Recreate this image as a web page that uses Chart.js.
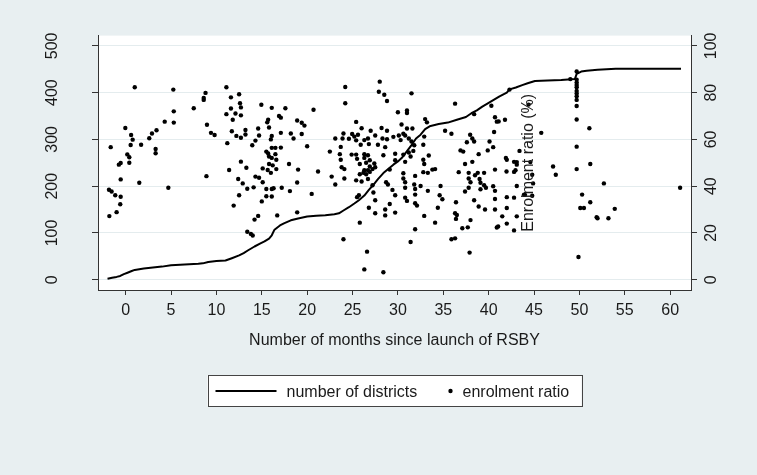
<!DOCTYPE html>
<html><head><meta charset="utf-8">
<script src="https://cdn.jsdelivr.net/npm/chart.js@4.4.1/dist/chart.umd.min.js"></script>
<style>html,body{margin:0;padding:0;background:#E8EFF1;}#wrap{width:757px;height:475px;position:relative}</style>
</head><body><div id="wrap"><canvas id="c" width="757" height="475"></canvas></div>
<script>
// ---- data ----
const xTicks = [0,5,10,15,20,25,30,35,40,45,50,55,60];
const leftTicks = [0,100,200,300,400,500];
const rightTicks = [0,20,40,60,80,100];
const xTitle = 'Number of months since launch of RSBY';
const rightTitle = 'Enrolment ratio (%)';
const legendLabels = ['number of districts','enrolment ratio'];

// cumulative number of districts (left axis)
const distMonths = [-2.0,-1.5,-1.0,-0.6,-0.2,0.2,0.6,1.0,2.0,3.0,4.0,5.0,6.0,7.0,8.0,8.5,9.1,10.0,11.0,11.7,12.5,13.0,13.5,14.2,14.8,15.3,15.8,16.1,16.4,17.0,17.5,18.2,19.0,20.0,21.0,22.0,23.0,23.5,24.0,24.6,25.2,25.7,26.3,26.8,27.3,27.8,28.4,29.0,29.5,30.0,30.5,31.0,31.5,32.0,32.5,33.0,33.5,34.5,35.5,36.5,37.5,38.1,38.7,39.3,40.0,40.6,41.2,42.0,42.3,43.0,43.7,44.3,45.1,46.5,48.0,49.5,49.7,50.2,50.8,52.0,53.0,54.0,61.2];
const distCounts = [2,4,6,8,12,15,18,21,24,26,28,31,32,33,34,35,38,40,41,46,52,57,63,71,77,82,88,95,107,116,121,127,131,135,137,138,140,142,148,155,163,170,180,192,203,215,228,238,246,253,262,275,288,302,310,322,328,333,336,342,348,356,362,370,378,385,392,400,407,411,416,420,425,426,427,429,440,445,447,449,450,451,451];

// enrolment ratio by district [month, ratio %] (right axis)
const enrolPoints = [
[1.0,82.3],[5.25,81.3],[7.5,73.3],[5.3,72],[4.3,67.6],[5.3,67.2],[-0.04,64.9],[3.4,63.9],[2.9,62.5],[0.6,61.9],[2.6,60.5],[0.77,59.9],[0.55,57.6],[1.7,57.7],[-1.65,56.7],[3.3,55.9],[3.3,54.1],[0.18,53.6],[0.4,52.4],[0.4,50],[-0.55,49.9],[-0.75,49.2],[-0.55,42.9],[1.5,41.5],[4.7,39.3],[-1.84,38.5],[-1.55,37.7],[-1.15,36.1],[-0.55,35.5],[-0.6,32.3],[-1.0,28.9],[-1.8,27.2],
[11.1,82.3],[8.8,79.9],[12.5,79.3],[8.6,77.7],[8.6,76.9],[11.6,78],[12.6,75.5],[12.7,73.7],[11.6,73.2],[11.1,70.8],[12.1,71.1],[12.7,70.3],[11.8,68.4],[14.95,74.8],[16.1,73.5],[17.6,73.3],[16.9,70],[17.1,69.3],[15.7,68.4],[15.6,67.3],[18.9,68.1],[8.96,66.3],[14.6,64.7],[15.8,65.1],[9.4,62.8],[9.8,61.9],[11.7,63.5],[13.2,64],[13.2,62.1],[12.2,61.5],[12.7,60.7],[14.7,61.7],[16.1,61.5],[16.0,60],[17.1,62.8],[18.2,62.5],[18.5,60.4],[11.2,58.4],[14.3,59.5],[13.95,57.5],[16.1,56.4],[16.5,56.4],[17.1,56.5],[15.5,54.8],[15.7,54],[16.5,53.7],[15.8,52.7],[16.1,52.1],[16.6,51.3],[12.7,50.5],[18.0,49.5],[15.8,49.5],[16.2,48.9],[13.3,47.9],[11.4,46.9],[15.1,47.6],[15.65,46.9],[16.0,45.7],[16.6,47.3],[14.3,44.1],[14.7,43.6],[8.9,44.3],[12.4,43.1],[12.9,41.2],[15.1,41.7],[18.9,41.6],[13.4,38.9],[14.1,39.5],[15.5,38.8],[16.1,38.8],[16.3,39.1],[17.2,39.3],[18.1,37.9],[12.5,36.1],[15.5,35.7],[16.1,35.6],[15.0,33.5],[11.9,31.7],[16.7,27.5],[18.9,28.8],[14.6,27.3],[14.2,25.7],[13.4,20.5],[13.8,19.6],[14.0,18.9],
[24.2,82.4],[28.0,84.7],[27.9,80.4],[28.5,79.1],[28.8,76.4],[24.2,75.5],[20.7,72.7],[19.4,67.1],[19.7,65.9],[25.4,67.5],[26.0,64.8],[27.0,63.7],[28.2,64.9],[28.8,63.7],[30.0,71.6],[19.4,62.3],[24.0,62.5],[24.96,62.3],[25.6,62],[23.1,60.4],[23.9,60.4],[24.6,60.3],[25.2,61.2],[25.4,59.6],[26.3,59.7],[26.7,60.4],[27.5,61.7],[28.3,60.4],[28.8,60.1],[29.5,61.1],[20.0,57.1],[23.7,56.8],[25.9,57.7],[26.8,58],[27.8,57.7],[28.6,56.7],[22.5,54.8],[23.6,53.7],[24.9,53.5],[25.4,53.5],[26.3,53.7],[26.7,53.2],[28.4,53.2],[29.7,53.9],[23.7,51.3],[25.5,51.7],[26.3,52.1],[26.9,51.1],[27.4,49.7],[25.8,49.5],[26.5,50],[23.8,48.1],[24.1,47.3],[26.9,48.4],[27.5,48.1],[27.2,47.3],[29.7,51.1],[29.1,47.1],[19.0,47.1],[21.2,46.3],[26.3,46.8],[26.7,46.8],[25.8,45.1],[26.2,45.7],[26.5,45.1],[26.9,46.1],[22.7,44.1],[24.1,43.3],[25.4,42.5],[26.0,42],[26.7,43.1],[28.7,41.7],[23.1,40.7],[27.2,40.4],[28.9,40.7],[29.4,38.4],[27.3,37.3],[20.5,36.7],[29.7,36.1],[25.7,36.1],[25.5,35.3],[27.5,34],[29.1,32.4],[26.8,30.8],[28.6,30],[29.7,28.7],[27.5,28.4],[28.6,27.5],[25.8,24.4],[24.0,17.3],[26.6,12],[26.3,4.4],[28.4,3.2],
[31.5,79.7],[36.3,75.3],[31.0,72.4],[31.0,71.3],[33.0,68.7],[33.2,67.3],[30.4,66.4],[31.0,64.7],[31.6,64.7],[35.2,63.7],[35.9,62.4],[37.96,62],[40.3,74.4],[40.7,69.5],[40.9,67.6],[38.4,70.8],[30.1,61.7],[30.6,62.4],[30.8,61.7],[31.2,60.4],[30.3,59.7],[31.5,59.1],[31.8,57.5],[32.9,61.2],[32.8,57.7],[37.6,58.8],[38.2,60.4],[38.4,59.1],[40.1,59.1],[40.5,56.7],[39.9,55.3],[36.9,55.3],[37.2,54.8],[38.9,53.7],[31.2,54.4],[31.7,55.1],[30.6,53.5],[31.4,52.7],[33.4,53.1],[30.8,50.4],[32.8,51.3],[32.9,49.5],[38.2,50.4],[37.4,49.5],[40.7,47.1],[32.8,46],[33.3,45.7],[33.8,47.1],[34.1,47.3],[36.7,46],[37.8,45.7],[38.8,45.7],[39.5,45.7],[37.8,43.3],[38.5,44.7],[39.0,43.1],[30.6,45.5],[30.6,43.3],[30.8,41.7],[30.8,39.3],[31.9,44.4],[31.8,40.7],[31.9,38.8],[32.5,40.1],[34.7,40.1],[33.3,38],[38.0,41.7],[39.1,41.5],[39.5,40.4],[39.7,39.3],[37.8,39.3],[39.1,38.7],[37.4,37.7],[40.7,38],[30.8,35.1],[31.0,33.7],[31.9,36.4],[31.9,32.7],[32.1,31.7],[34.6,36.1],[34.9,34.4],[38.4,34],[38.9,31.3],[39.6,30],[40.7,30],[34.4,30.8],[36.4,33.1],[32.9,27.3],[34.1,24.4],[36.3,28.4],[36.5,27.7],[36.4,26],[38.0,25.5],[37.1,22],[37.7,22.4],[40.9,22.3],[31.9,21.6],[35.9,17.3],[36.3,17.7],[31.4,16.1],[37.9,11.6],[40.6,63.2],[40.5,40],[40.7,34.5],
[49.7,89.1],[49.7,85.5],[49.7,84.3],[49.7,83.3],[49.7,82.3],[49.7,80.7],[49.7,79.6],[49.7,78.5],[49.7,76.9],[49.7,74.3],[49.7,68.5],[49.7,56.9],[49.7,47.3],[49.0,85.8],[42.3,81.3],
[41.8,68.4],[41.1,67.7],[44.4,74.9],[45.8,62.8],[51.1,64.8],[51.2,49.5],[43.4,55.1],[41.9,52.1],[42.0,51.3],[42.8,50.4],[43.1,50.3],[43.1,49.2],[41.97,46.3],[42.8,46.1],[42.96,46.8],[42.0,35.3],[42.8,35.1],[42.0,30.7],[41.5,27.1],[42.0,24],[41.05,22.8],[43.1,27.1],[42.8,21.1],[43.9,36.4],[47.1,48.4],[47.4,44.9],[50.3,36.4],[50.1,30.7],[50.5,30.7],[51.2,33.1],[51.9,26.7],[49.9,9.7],[52.7,41.2],[53.2,26.3],[53.9,30.3],[61.1,39.3],[52.0,26.3],
[44.6,50.3],[44.8,44.9],[44.0,36.3],[44.8,35.9],[43.1,40.1],[44.9,41.2]
];

// ---- style ----
const FONT = "'Liberation Sans', Arial, Helvetica, sans-serif";
const BG = '#E8EFF1';
const INK = '#1a1a1a';
const AXIS = '#333333';
const GRID = '#E4ECEE';
Chart.defaults.font.family = FONT;
Chart.defaults.font.size = 16;
Chart.defaults.color = INK;

const tickSetter = arr => s => { s.ticks = arr.map(v => ({value: v})); };

const bgPlugin = {
  id: 'bg',
  beforeDraw(chart) {
    const {ctx, chartArea: a} = chart;
    ctx.save();
    ctx.fillStyle = BG;
    ctx.fillRect(0, 0, chart.width, chart.height);
    ctx.fillStyle = '#ffffff';
    ctx.fillRect(a.left, a.top, a.right - a.left, a.bottom - a.top);
    ctx.restore();
  }
};

const rightTitlePlugin = {
  id: 'rtitle',
  afterDatasetsDraw(chart) {
    const {ctx, chartArea: a} = chart;
    ctx.save();
    ctx.translate(a.left + 435, (a.top + a.bottom) / 2);
    ctx.rotate(-Math.PI / 2);
    ctx.font = '16px ' + FONT;
    ctx.fillStyle = INK;
    ctx.textAlign = 'center';
    ctx.textBaseline = 'alphabetic';
    ctx.fillText(rightTitle, 0, 0);
    ctx.restore();
  }
};

const legendPlugin = {
  id: 'boxlegend',
  afterDraw(chart) {
    const {ctx, chartArea: a} = chart;
    const cx = (a.left + a.right) / 2;
    const w = 374, h = 31, top = 375;
    const left = cx - w / 2;
    ctx.save();
    ctx.fillStyle = '#ffffff';
    ctx.fillRect(left, top, w, h);
    ctx.strokeStyle = '#444';
    ctx.lineWidth = 1;
    ctx.strokeRect(Math.round(left) + 0.5, top + 0.5, w, h);
    const midY = top + 16;
    // line sample
    ctx.strokeStyle = '#000';
    ctx.lineWidth = 2;
    ctx.beginPath();
    ctx.moveTo(left + 8, midY);
    ctx.lineTo(left + 69, midY);
    ctx.stroke();
    ctx.font = '16px ' + FONT;
    ctx.fillStyle = INK;
    ctx.textAlign = 'left';
    ctx.textBaseline = 'alphabetic';
    ctx.fillText(legendLabels[0], left + 79, top + 22);
    // dot sample
    ctx.fillStyle = '#000';
    ctx.beginPath();
    ctx.arc(left + 243, midY, 2.2, 0, Math.PI * 2);
    ctx.fill();
    ctx.fillStyle = INK;
    ctx.fillText(legendLabels[1], left + 255, top + 22);
    ctx.restore();
  }
};

new Chart(document.getElementById('c'), {
  type: 'scatter',
  data: {
    datasets: [
      {
        type: 'line',
        label: legendLabels[0],
        data: distMonths.map((m, i) => ({x: m, y: distCounts[i]})),
        xAxisID: 'x', yAxisID: 'y',
        borderColor: '#000', borderWidth: 2, pointRadius: 0,
        fill: false, tension: 0, borderJoinStyle: 'round'
      },
      {
        type: 'scatter',
        label: legendLabels[1],
        data: enrolPoints.map(p => ({x: p[0], y: p[1]})),
        xAxisID: 'x', yAxisID: 'y2',
        backgroundColor: '#000', borderColor: '#000', borderWidth: 0, pointRadius: 2.2
      }
    ]
  },
  options: {
    responsive: false, animation: false, devicePixelRatio: 1,
    layout: {padding: {top: 18, bottom: 125, left: 0, right: 0}},
    plugins: {legend: {display: false}, tooltip: {enabled: false}},
    scales: {
      x: {
        type: 'linear', position: 'bottom', min: -3.05, max: 62.3,
        afterBuildTicks: tickSetter(xTicks),
        afterFit: s => { s.height = 60; },
        grid: {drawOnChartArea: false, tickLength: 5, tickColor: AXIS, tickWidth: 1},
        border: {color: AXIS, width: 1},
        ticks: {padding: 6, color: INK, maxRotation: 0, autoSkip: false},
        title: {display: true, text: xTitle, color: INK, padding: {top: 0, bottom: 0}, font: {size: 16}}
      },
      y: {
        type: 'linear', position: 'left', min: -22, max: 522,
        afterBuildTicks: tickSetter(leftTicks),
        afterFit: s => { s.width = 98; },
        grid: {color: GRID, lineWidth: 1, tickLength: 6, tickColor: AXIS, tickWidth: 1},
        border: {color: AXIS, width: 1},
        ticks: {minRotation: 90, maxRotation: 90, crossAlign: 'center', padding: 26, color: INK, autoSkip: false}
      },
      y2: {
        type: 'linear', position: 'right', min: -4.4, max: 104.4,
        afterBuildTicks: tickSetter(rightTicks),
        afterFit: s => { s.width = 66; },
        grid: {drawOnChartArea: false, tickLength: 6, tickColor: AXIS, tickWidth: 1},
        border: {color: AXIS, width: 1},
        ticks: {minRotation: 90, maxRotation: 90, crossAlign: 'center', padding: 1, color: INK, autoSkip: false}
      }
    }
  },
  plugins: [bgPlugin, rightTitlePlugin, legendPlugin]
});
</script>
</body></html>
